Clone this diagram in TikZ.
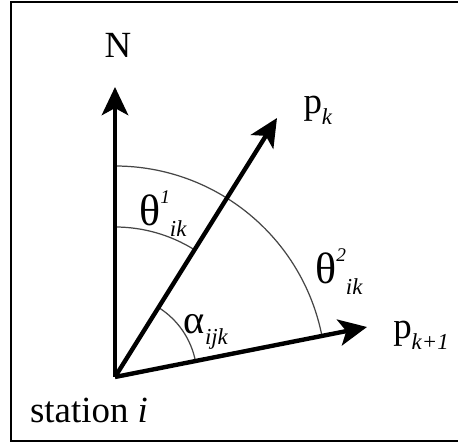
\documentclass[tikz,border=0pt]{standalone}
\usepackage{fontspec}
\setmainfont{Liberation Serif}
\usepackage{tikz}
\usetikzlibrary{arrows.meta,positioning,calc}
\definecolor{arcgris}{RGB}{70,70,70}
% symbol with a small superscript and a staggered subscript
\newcommand{\angsym}[3]{{\fontsize{25}{28}\selectfont #1}\raisebox{0.6em}{\fontsize{11}{12}\selectfont\textit{#2}}\raisebox{-0.3em}{\fontsize{13}{14}\selectfont\textit{#3}}}
\newcommand{\lowsub}[2]{#1\raisebox{-0.3em}{\fontsize{13}{14}\selectfont\textit{#2}}}

\begin{document}
\begin{tikzpicture}[x=0.02cm, y=0.02cm,
    every node/.style={font=\fontsize{21}{24}\selectfont, inner sep=1pt},
    vec/.style={line width=2.5pt, -{Stealth[length=16pt,width=15pt,inset=4pt]}},
    angarc/.style={arcgris, line width=0.7pt}]
    \useasboundingbox (-115,-67) rectangle (343,377);
    % frame (right side is cut off)
    \draw[line width=1.1pt] (343,375) -- (-104,375) -- (-104,-64) -- (343,-64);
    % station and the three directions
    \coordinate (st) at (0,0);
    \coordinate (ntip) at (0,290);
    \coordinate (pktip) at (162,259);
    \coordinate (pkktip) at (252,50);
    \draw[angarc] ($(st)+(90:211)$) arc[start angle=90, end angle=11.2, radius=211];
    \draw[angarc] ($(st)+(90:150)$) arc[start angle=90, end angle=58, radius=150];
    \draw[angarc] ($(st)+(58:82)$) arc[start angle=58, end angle=11.2, radius=82];
    \draw[vec] (st) -- (ntip);
    \draw[vec] (st) -- (pktip);
    \draw[vec] (st) -- (pkktip);
    % labels
    \node (nord) at (3,332) {N};
    \node (pk) at (203,267) {\lowsub{p}{k}};
    \node (pkk) at (306,42) {\lowsub{p}{k+1}};
    \node (th1) at (48,163) {\angsym{θ}{1}{ik}};
    \node (th2) at (224,105) {\angsym{θ}{2}{ik}};
    \node (alpha) at (91,45) {{\fontsize{23}{26}\selectfont α}\raisebox{-0.3em}{\fontsize{13}{14}\selectfont\textit{ijk}}};
    \node (station) at (-26,-33) {station \textit{i}};
  \end{tikzpicture}
\end{document}
